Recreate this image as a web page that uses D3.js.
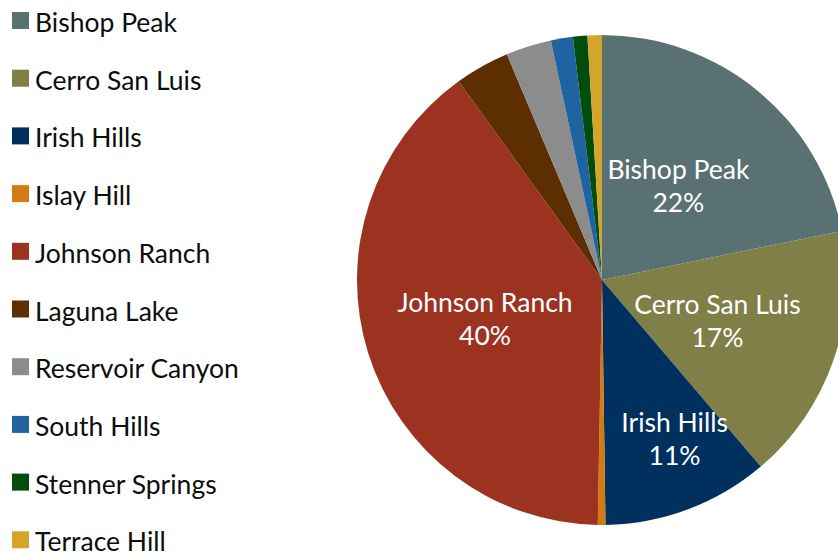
<!DOCTYPE html>
<html>
<head>
<meta charset="utf-8">
<script src="https://cdn.jsdelivr.net/npm/d3@7"></script>
<style>
  html, body { margin: 0; padding: 0; background: #fff; }
  svg { display: block; }
</style>
</head>
<body>
<svg id="chart" width="838" height="554"></svg>
<script>
// Share of visits by open-space area (percent)
const areas = ["Bishop Peak", "Cerro San Luis", "Irish Hills", "Islay Hill", "Johnson Ranch",
               "Laguna Lake", "Reservoir Canyon", "South Hills", "Stenner Springs", "Terrace Hill"];
const shares = [21.8, 17.0, 11.0, 0.5, 39.8, 3.6, 3.0, 1.45, 0.95, 0.95];
const colors = ["#5a7174", "#7f7f47", "#00305e", "#d47a12", "#9c3321",
                "#5c2e00", "#8c8c8c", "#1f64a0", "#004d0e", "#d4a52a"];
// Slices that carry an in-pie label: radial position (fraction of radius) and angular nudge (degrees)
const labelled = ["Bishop Peak", "Cerro San Luis", "Irish Hills", "Johnson Ranch"];
const labelRadius = [0.493, 0.5, 0.712, 0.503];
const labelShift = [0, 0.5, -4, -1];

const data = areas.map((name, i) => ({ name, value: shares[i], color: colors[i] }));
const svg = d3.select("#chart");
const font = "Lato, 'Noto Sans', sans-serif";
const fontSize = 26.5;

const cx = 602, cy = 280, R = 245;
const pie = d3.pie().value(d => d.value).sort(null);
const arc = d3.arc().innerRadius(0).outerRadius(R);
const arcs = pie(data);

const g = svg.append("g").attr("transform", `translate(${cx},${cy})`);
g.selectAll("path.slice")
  .data(arcs)
  .enter().append("path")
  .attr("class", "slice")
  .attr("d", arc)
  .attr("fill", d => d.data.color);

const total = d3.sum(shares);
labelled.forEach((name, k) => {
  const a = arcs.find(d => d.data.name === name);
  const r = R * labelRadius[k];
  const ang = (a.startAngle + a.endAngle) / 2 + labelShift[k] * Math.PI / 180;
  const x = r * Math.sin(ang), y = -r * Math.cos(ang);
  const t = g.append("text")
    .attr("text-anchor", "middle")
    .attr("fill", "#ffffff")
    .style("font-family", font)
    .style("font-size", fontSize + "px");
  t.append("tspan").attr("x", x).attr("y", y - 7).text(name);
  t.append("tspan").attr("x", x).attr("y", y + 26)
    .text(Math.round(a.data.value / total * 100) + "%");
});

// Legend
const legend = svg.append("g").attr("transform", "translate(12,12)");
const rowH = 57.7;
const rows = legend.selectAll("g.row")
  .data(data)
  .enter().append("g")
  .attr("class", "row")
  .attr("transform", (d, i) => `translate(0,${i * rowH})`);
rows.append("rect")
  .attr("x", 0).attr("y", 0)
  .attr("width", 17).attr("height", 17)
  .attr("fill", d => d.color);
rows.append("text")
  .attr("x", 23).attr("y", 20)
  .attr("fill", "#0d0d0d")
  .style("font-family", font)
  .style("font-size", fontSize + "px")
  .text(d => d.name);
</script>
</body>
</html>
